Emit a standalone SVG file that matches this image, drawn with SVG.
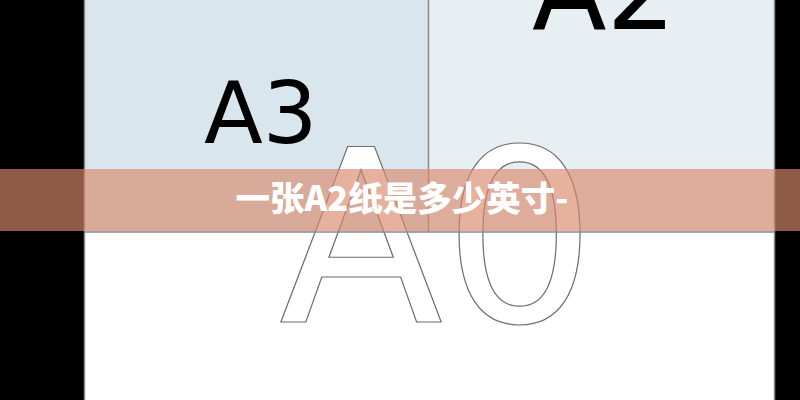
<svg xmlns="http://www.w3.org/2000/svg" width="800" height="400" viewBox="0 0 800 400">
  <style>
    .lbl { font-family: "DejaVu Sans", "Liberation Sans", sans-serif; fill: #000; }
    .a0 { font-family: "DejaVu Sans", "Liberation Sans", sans-serif; fill: #fff; stroke: #6e6e6e; stroke-width: 1.2; }
    .edge { stroke: #8a8a8a; stroke-width: 1.5; fill: none; }
    .title { font-family: "Noto Sans CJK SC", "Noto Sans", sans-serif; font-weight: 900; fill: #fff; }
  </style>
  <rect x="0" y="0" width="800" height="400" fill="#000"/>
  <g id="paper">
    <rect x="85" y="0" width="690" height="400" fill="#fff"/>
  </g>
  <g id="a3">
    <rect x="85" y="0" width="343" height="232" fill="#dae6ee"/>
    <text class="lbl" x="204" y="143" font-size="86">A3</text>
  </g>
  <g id="a2">
    <rect x="428" y="0" width="347" height="232" fill="#e7eff3"/>
    <text class="lbl" x="532" y="29" font-size="109">A2</text>
  </g>
  <g id="a0">
    <text class="a0" x="279" y="322" font-size="240">A0</text>
  </g>
  <g id="lines">
    <line class="edge" x1="85" y1="232" x2="775" y2="232"/>
    <line class="edge" x1="428.5" y1="0" x2="428.5" y2="232"/>
    <line class="edge" x1="84.5" y1="0" x2="84.5" y2="400"/>
    <line class="edge" x1="774.5" y1="0" x2="774.5" y2="400"/>
  </g>
  <g id="banner">
    <rect x="0" y="169" width="800" height="62" fill="#d9886d" fill-opacity="0.66"/>
    <text class="title" x="402" y="211" font-size="34.5" text-anchor="middle">一张A2纸是多少英寸-</text>
  </g>
</svg>
